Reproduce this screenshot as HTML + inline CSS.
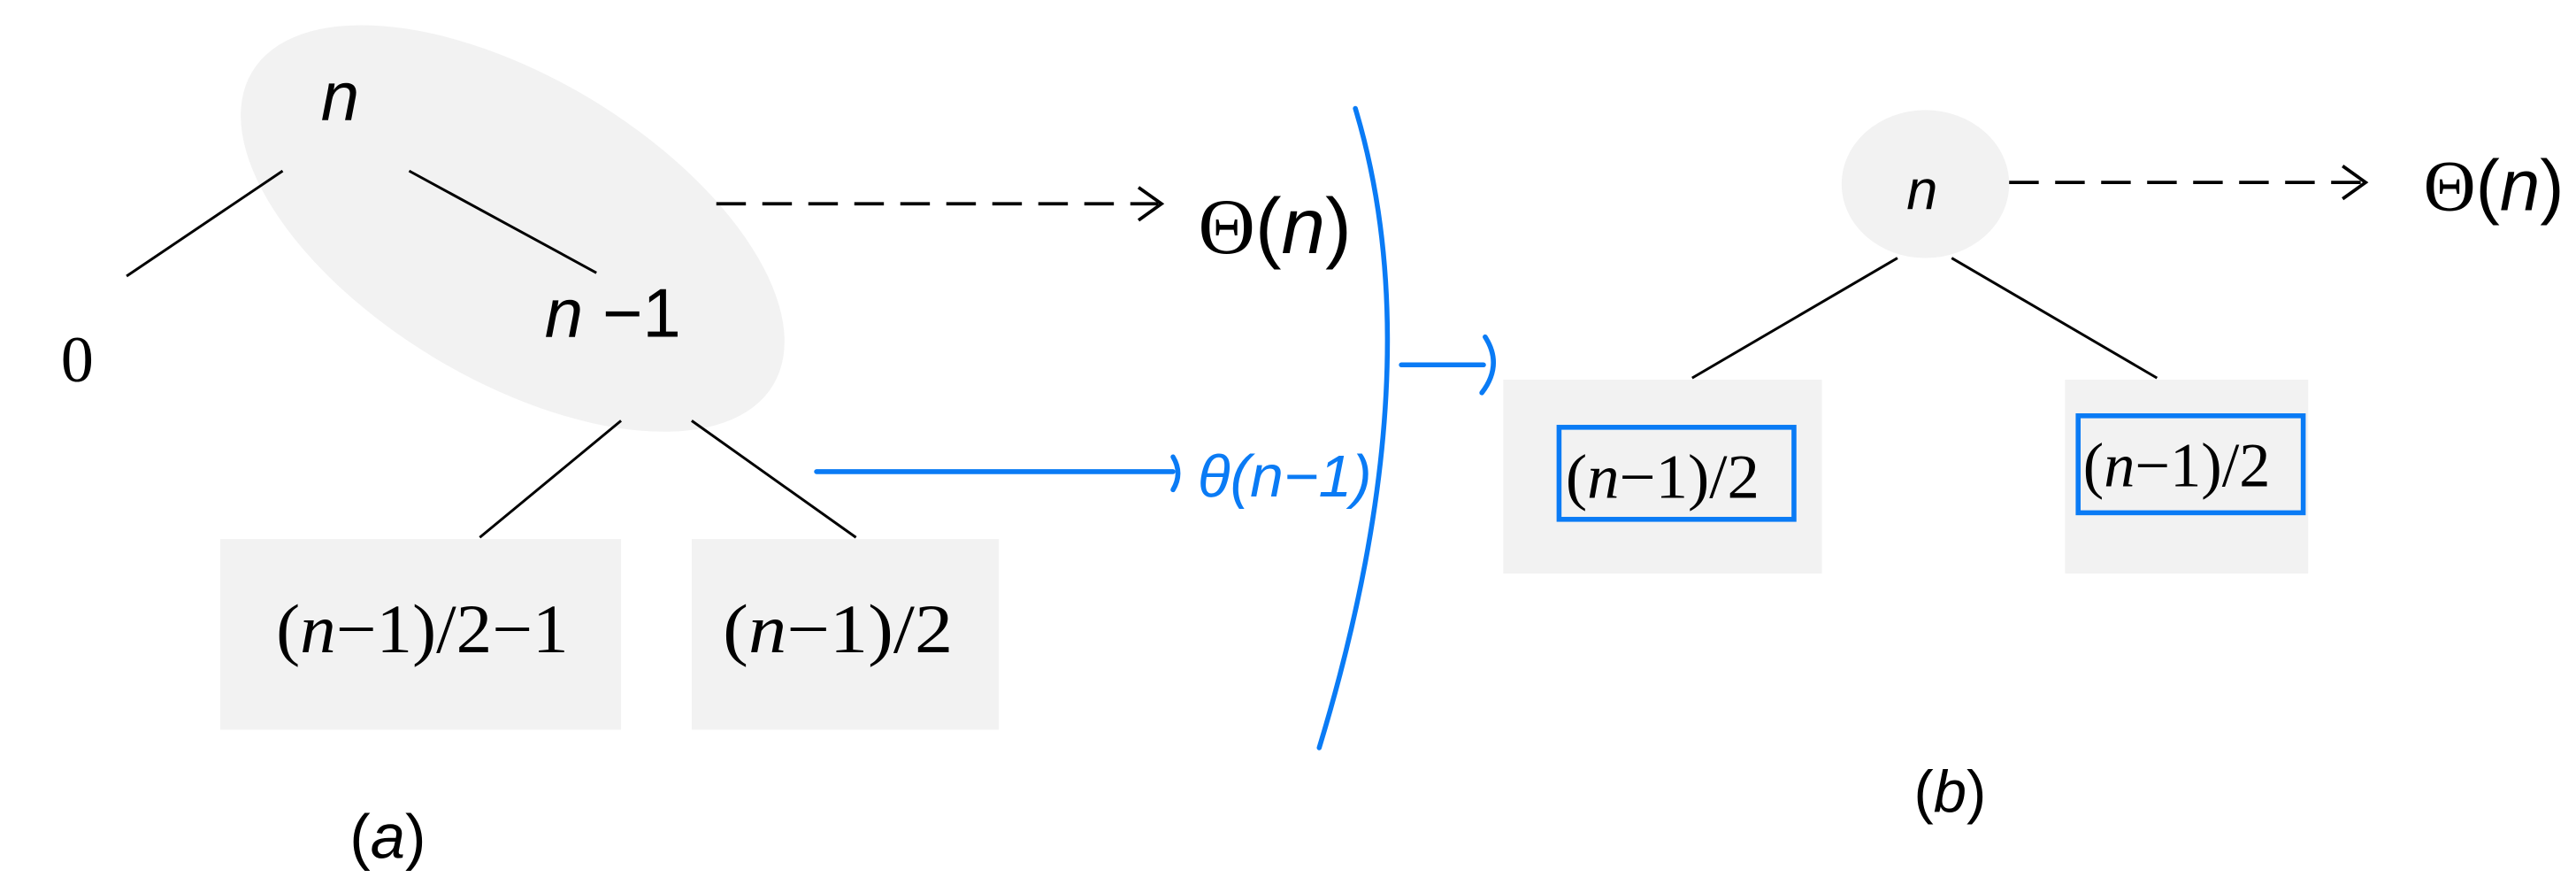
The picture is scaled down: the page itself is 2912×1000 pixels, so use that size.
<!DOCTYPE html>
<html><head><meta charset="utf-8"><style>html,body{margin:0;padding:0;background:#fff;}svg{display:block}</style></head>
<body>
<svg width="2912" height="1000" viewBox="0 0 1568 538.5" xmlns="http://www.w3.org/2000/svg">
<rect width="1568" height="538.5" fill="#fff"/>
<!-- (a) -->
<ellipse cx="312" cy="139" rx="185" ry="92" transform="rotate(31 312 139)" fill="#f2f2f2"/>
<g stroke="#000" stroke-width="1.6">
<line x1="172" y1="104" x2="77" y2="168"/>
<line x1="249" y1="104" x2="363" y2="166"/>
<line x1="378" y1="256" x2="292" y2="327"/>
<line x1="421" y1="256" x2="521" y2="327"/>
</g>
<rect x="134" y="328" width="244" height="116" fill="#f2f2f2"/>
<rect x="421" y="328" width="187" height="116" fill="#f2f2f2"/>
<!-- (b) shapes -->
<ellipse cx="1172" cy="112" rx="51" ry="45" fill="#f2f2f2"/>
<g stroke="#000" stroke-width="1.6">
<line x1="1155" y1="157" x2="1030" y2="230"/>
<line x1="1188" y1="157" x2="1313" y2="230"/>
</g>
<rect x="915" y="231" width="194" height="118" fill="#f2f2f2"/>
<rect x="1257" y="231" width="148" height="118" fill="#f2f2f2"/>
<rect x="949" y="260" width="143" height="56" fill="none" stroke="#0a7bf5" stroke-width="3"/>
<rect x="1265" y="253" width="137" height="59" fill="none" stroke="#0a7bf5" stroke-width="3"/>
<g font-family="Liberation Sans, sans-serif" fill="#000">
<text x="207" y="73" font-size="42" font-style="italic" text-anchor="middle">n</text>
<text x="373" y="205" font-size="42" text-anchor="middle"><tspan font-style="italic">n</tspan> −1</text>
<text x="236" y="522" font-size="38" text-anchor="middle">(<tspan font-style="italic">a</tspan>)</text>
<text x="1187" y="494" font-size="36" text-anchor="middle">(<tspan font-style="italic">b</tspan>)</text>
<text x="1170" y="127" font-size="34" font-style="italic" text-anchor="middle">n</text>
<text x="776" y="154" font-size="48" text-anchor="middle"><tspan font-family="Liberation Serif, serif">Θ</tspan>(<tspan font-style="italic">n</tspan>)</text>
<text x="1518" y="128" font-size="44" text-anchor="middle"><tspan font-family="Liberation Serif, serif">Θ</tspan>(<tspan font-style="italic">n</tspan>)</text>
</g>
<g font-family="Liberation Serif, serif" fill="#000">
<text x="47" y="232" font-size="40" text-anchor="middle">0</text>
<text x="257" y="397" font-size="42" text-anchor="middle" textLength="178" lengthAdjust="spacingAndGlyphs">(<tspan font-style="italic">n</tspan>−1)/2−1</text>
<text x="510" y="397" font-size="42" text-anchor="middle" textLength="140" lengthAdjust="spacingAndGlyphs">(<tspan font-style="italic">n</tspan>−1)/2</text>
<text x="1012" y="303" font-size="38" text-anchor="middle" textLength="118" lengthAdjust="spacingAndGlyphs">(<tspan font-style="italic">n</tspan>−1)/2</text>
<text x="1325" y="296" font-size="38" text-anchor="middle" textLength="114" lengthAdjust="spacingAndGlyphs">(<tspan font-style="italic">n</tspan>−1)/2</text>
</g>
<!-- dashed arrows -->
<g stroke="#000" stroke-width="2" fill="none">
<line x1="436" y1="124" x2="705" y2="124" stroke-dasharray="18,10"/>
<polyline points="693,114 707,124 693,134"/>
<line x1="1223" y1="111" x2="1438" y2="111" stroke-dasharray="18,10"/>
<polyline points="1426,101 1440,111 1426,121"/>
</g>
<!-- blue -->
<g stroke="#0a7bf5" stroke-width="3" fill="none" stroke-linecap="round">
<line x1="497" y1="287" x2="714" y2="287"/>
<path d="M825,66 Q873,225 803,455"/>
<line x1="853" y1="222" x2="903" y2="222"/>
<path d="M904,205 Q915,222 902,239"/>
<path d="M714,278 Q720,288 714,298"/>
</g>
<text x="729" y="302" font-family="Liberation Sans, sans-serif" font-size="36" font-style="italic" fill="#0a7bf5" textLength="106" lengthAdjust="spacingAndGlyphs">θ(n−1)</text>
</svg>
</body></html>
